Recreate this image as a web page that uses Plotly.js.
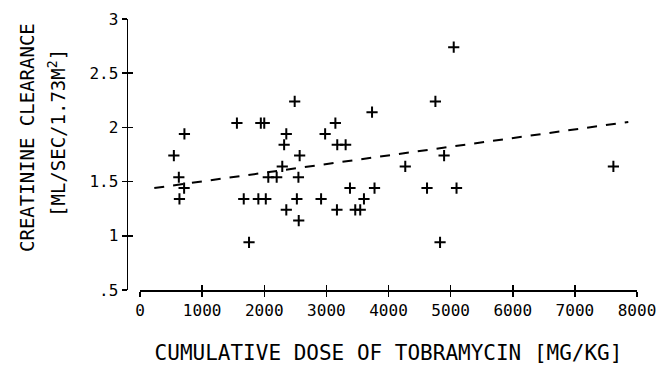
<!DOCTYPE html>
<html>
<head>
<meta charset="utf-8">
<script src="https://cdn.plot.ly/plotly-3.0.1.min.js"></script>
<style>html,body{margin:0;padding:0;background:#fff;}#chart{width:670px;height:368px;}</style>
</head>
<body>
<div id="chart"></div>
<script>
// Data
const doseX = [715, 545, 625, 710, 635, 1560, 1945, 2000, 2355, 2320,
               2570, 2290, 2065, 2200, 2550, 1670, 1905, 2025, 2525, 2355,
               2555, 1755, 2915, 3170, 3465, 3545, 3380, 3605, 3775, 2980,
               3145, 3175, 3310, 3735, 4270, 5050, 4755, 4895, 4620, 5095,
               4830, 7620, 2490];
const clearanceY = [1.94, 1.74, 1.54, 1.44, 1.34, 2.04, 2.04, 2.04, 1.94, 1.84,
                    1.74, 1.64, 1.54, 1.54, 1.54, 1.34, 1.34, 1.34, 1.34, 1.24,
                    1.14, 0.94, 1.34, 1.24, 1.24, 1.24, 1.44, 1.34, 1.44, 1.94,
                    2.04, 1.84, 1.84, 2.14, 1.64, 2.74, 2.24, 1.74, 1.44, 1.44,
                    0.94, 1.64, 2.24];
const fitX = [230, 7860];
const fitY = [1.44, 2.05];
const xTickVals = [0, 1000, 2000, 3000, 4000, 5000, 6000, 7000, 8000];
const xTickText = ['0', '1000', '2000', '3000', '4000', '5000', '6000', '7000', '8000'];
const yTickVals = [0.5, 1, 1.5, 2, 2.5, 3];
const yTickText = ['.5', '1', '1.5', '2', '2.5', '3'];
const xTitle = 'CUMULATIVE DOSE OF TOBRAMYCIN [MG/KG]';
const yTitle1 = 'CREATININE CLEARANCE';
const yTitle2 = '[ML/SEC/1.73M<sup>2</sup>]';

const FONT = 'DejaVu Sans Mono, monospace';
const W = 670, H = 368, L = 100, R = 33, T = 19, B = 78;
const plotW = W - L - R, plotH = H - T - B;
const xDomStart = (140 - L) / plotW;
const yPos = (126.5 - L) / plotW;

const traces = [
  {
    x: doseX, y: clearanceY, type: 'scatter', mode: 'markers',
    marker: {symbol: 'cross-thin-open', size: 8, color: '#000', line: {width: 2, color: '#000'}},
    cliponaxis: false, hoverinfo: 'x+y', showlegend: false
  },
  {
    x: fitX, y: fitY, type: 'scatter', mode: 'lines',
    line: {color: '#000', width: 2, dash: '10px,9px'},
    hoverinfo: 'skip', showlegend: false
  },
  {x: [], y: [], xaxis: 'x2', yaxis: 'y2', type: 'scatter', mode: 'markers', showlegend: false, hoverinfo: 'skip'}
];

const axCommon = {
  showgrid: false, zeroline: false, linecolor: '#000', linewidth: 1.5,
  tickcolor: '#000', tickwidth: 1.5, ticklen: 5, automargin: false,
  tickfont: {family: FONT, size: 16, color: '#000'}
};

const layout = {
  width: W, height: H,
  margin: {l: L, r: R, t: T, b: B},
  paper_bgcolor: '#fff', plot_bgcolor: '#fff',
  showlegend: false,
  xaxis: Object.assign({}, axCommon, {
    domain: [xDomStart, 1], range: [0, 8000], anchor: 'y',
    showline: true, ticks: 'outside', tickmode: 'array',
    tickvals: xTickVals, ticktext: xTickText,
    title: {text: xTitle, font: {family: FONT, size: 21, color: '#000'}, standoff: 26}
  }),
  yaxis: Object.assign({}, axCommon, {
    range: [0.5, 3], anchor: 'free', position: yPos, side: 'left',
    showline: true, ticks: 'outside', tickmode: 'array',
    tickvals: yTickVals, ticktext: yTickText
  }),
  xaxis2: Object.assign({}, axCommon, {
    domain: [xDomStart, 1], range: [0, 8000], anchor: 'y2', overlaying: 'x',
    showline: false, ticks: 'inside', showticklabels: false,
    tickmode: 'array', tickvals: xTickVals
  }),
  yaxis2: Object.assign({}, axCommon, {
    range: [0.5, 3], anchor: 'free', position: yPos, overlaying: 'y', side: 'left',
    showline: false, ticks: 'inside', showticklabels: false,
    tickmode: 'array', tickvals: yTickVals
  }),
  annotations: [
    {text: yTitle1, xref: 'paper', yref: 'paper', x: (27 - L) / plotW, y: (290 - 138) / plotH,
     xanchor: 'center', yanchor: 'middle', textangle: -90, showarrow: false,
     font: {family: FONT, size: 19, color: '#000'}},
    {text: yTitle2, xref: 'paper', yref: 'paper', x: (57 - L) / plotW, y: (290 - 133) / plotH,
     xanchor: 'center', yanchor: 'middle', textangle: -90, showarrow: false,
     font: {family: FONT, size: 19, color: '#000'}}
  ]
};

Plotly.newPlot('chart', traces, layout, {staticPlot: true, displayModeBar: false});
</script>
</body>
</html>
